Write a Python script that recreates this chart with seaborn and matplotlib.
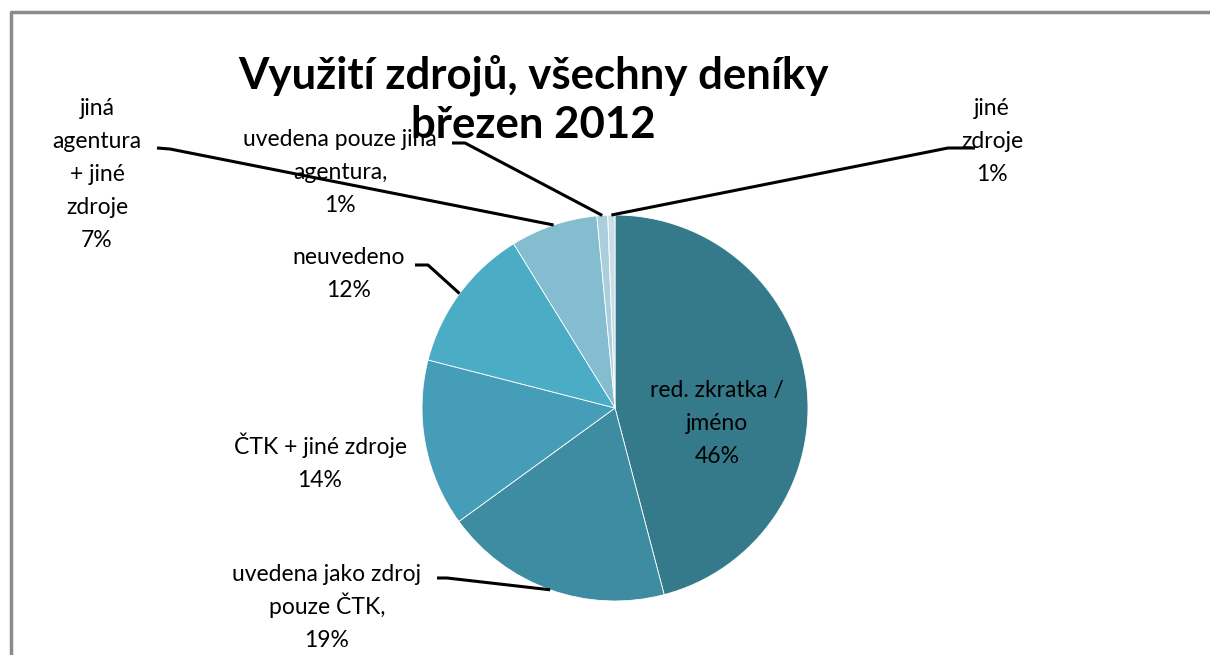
import matplotlib
matplotlib.use("Agg")
import matplotlib.pyplot as plt
import seaborn as sns
import numpy as np

# ---- data ----
categories = ["red. zkratka /\njméno", "uvedena jako zdroj\npouze ČTK,", "ČTK + jiné zdroje",
              "neuvedeno", "jiná\nagentura\n+ jiné\nzdroje", "uvedena pouze jiná\nagentura,",
              "jiné\nzdroje"]
values = [45.9, 19.1, 14.0, 12.2, 7.3, 0.9, 0.6]
colors = ["#357A8A", "#3D8CA2", "#459DB7", "#4BACC6", "#84BDCF", "#AACEDC", "#C8DFE8"]
title_lines = ["Využití zdrojů, všechny deníky", "březen 2012"]

# label layout: x centre and first-line baseline (pixels, y from top), leader start/elbow
label_pos = [(717, 397), (327, 581), (320, 454), (349, 264), (97, 115), (340, 146), (992, 115)]
leader = [None, ((437, 578), (447, 578)), None, ((415, 265), (428, 265)),
          ((157, 148), (170, 149)), ((452, 143), (465, 143)), ((975, 148), (948, 148))]
LINE_H = 33

W, H = 1210, 655
sns.set_theme(style="white")
plt.rcParams['font.family'] = ['Lato', 'DejaVu Sans']
plt.rcParams['text.color'] = 'black'

fig = plt.figure(figsize=(W / 100, H / 100), dpi=100)
ax = fig.add_axes([0, 0, 1, 1])

cx, cy, R = 615, 408, 193
def Y(y):
    return H - y

wedges, _ = ax.pie(values, colors=sns.color_palette(colors), startangle=90, counterclock=False,
                   center=(cx, Y(cy)), radius=R,
                   wedgeprops=dict(edgecolor="white", linewidth=0.6))
ax.set_xlim(0, W)
ax.set_ylim(0, H)
ax.set_aspect("auto")
ax.axis("off")

total = sum(values)
for i, (w, lab, v) in enumerate(zip(wedges, categories, values)):
    pct = f"{round(v / total * 100):.0f}%"
    lines = lab.split("\n") + [pct]
    tx, ty = label_pos[i]
    for k, ln in enumerate(lines):
        ax.text(tx, Y(ty + k * LINE_H), ln, ha="center", va="baseline", fontsize=16.5,
                color="black", zorder=3)
    if leader[i] is not None:
        mid = np.deg2rad((w.theta1 + w.theta2) / 2)
        ex, ey = cx + R * np.cos(mid), Y(cy) + R * np.sin(mid)
        (sx, sy), (kx, ky) = leader[i]
        ax.plot([sx, kx, ex], [Y(sy), Y(ky), ey], color="black", lw=2.2,
                solid_capstyle="butt", zorder=4)

for k, ln in enumerate(title_lines):
    ax.text(533, Y(88 + k * 50), ln, ha="center", va="baseline", fontsize=31.5,
            fontweight="bold", color="black", zorder=5)

# chart frame (top and left edges visible)
ax.plot([11, 11, W], [0, Y(12), Y(12)], color="#8C8C8C", lw=2.5, solid_capstyle="butt",
        zorder=6)

fig.savefig("out.png", dpi=100)
